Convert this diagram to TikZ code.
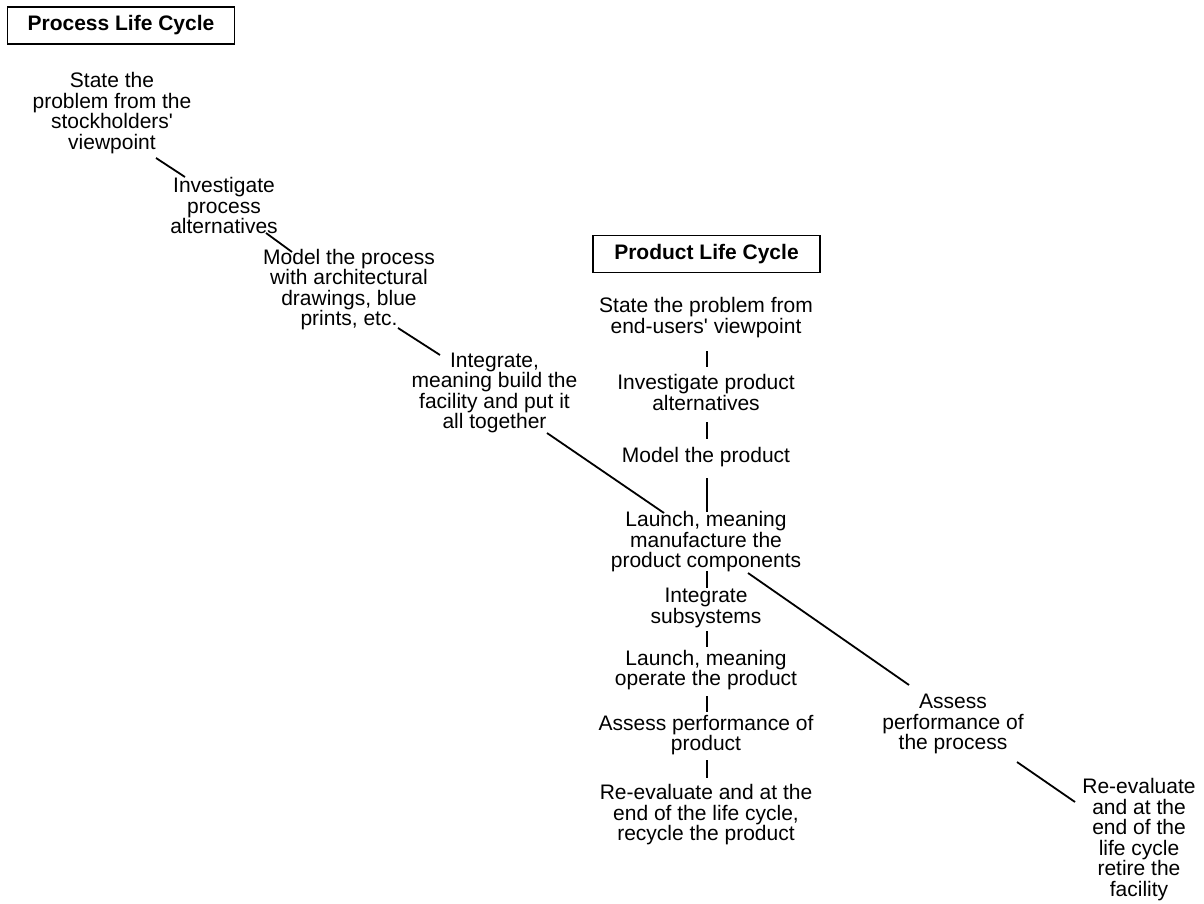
\documentclass[tikz,border=0pt]{standalone}
\usepackage{fontspec}
\setmainfont{Liberation Sans}
\usetikzlibrary{calc}
\tikzset{
  txt/.style={align=center, inner sep=0pt, font=\fontsize{21}{20.5}\selectfont},
  titlebox/.style={draw, line width=1.1pt, minimum width=227pt, minimum height=37pt, inner sep=0pt, font=\fontsize{21}{20.5}\selectfont\bfseries},
  conn/.style={line width=1.8pt}
}
\begin{document}
\begin{tikzpicture}[x=1pt,y=-1pt]
\useasboundingbox (0,0) rectangle (1204,904);
% process life cycle
\node[titlebox] (p0) at (121,25.5) {Process Life Cycle};
\node[txt] (p1) at (112,113) {State the\\problem from the\\stockholders\textquotesingle\\viewpoint};
\node[txt] (p2) at (224,205.5) {Investigate\\process\\alternatives};
\node[txt] (p3) at (349,289.5) {Model the process\\with architectural\\drawings, blue\\prints, etc.};
\node[txt] (p4) at (494.5,393) {Integrate,\\meaning build the\\facility and put it\\all together};
\node[txt] (p5) at (953,724) {Assess\\performance of\\the process};
\node[txt] (p6) at (1139,839.5) {Re-evaluate\\and at the\\end of the\\life cycle\\retire the\\facility};
% product life cycle
\node[titlebox] (q0) at (706.5,254) {Product Life Cycle};
\node[txt] (q1) at (706,317.5) {State the problem from\\end-users\textquotesingle{} viewpoint};
\node[txt] (q2) at (706,392.5) {Investigate product\\alternatives};
\node[txt] (q3) at (706,457) {Model the product};
\node[txt] (q4) at (706,542) {Launch, meaning\\manufacture the\\product components};
\node[txt] (q5) at (706,608) {Integrate\\subsystems};
\node[txt] (q6) at (706,670) {Launch, meaning\\operate the product};
\node[txt] (q7) at (706,735) {Assess performance of\\product};
\node[txt] (q8) at (706,815) {Re-evaluate and at the\\end of the life cycle,\\recycle the product};
% diagonal connectors
\draw[conn] ($(p1.center)+(44,45)$) -- ($(p2.center)+(-39,-28.5)$);
\draw[conn] ($(p2.center)+(42,27.5)$) -- ($(p3.center)+(-57,-37.5)$);
\draw[conn] ($(p3.center)+(49,38.5)$) -- ($(p4.center)+(-54.5,-38)$);
\draw[conn] ($(p4.center)+(52.5,40)$) -- ($(q4.center)+(-42,-29)$);
\draw[conn] ($(q4.center)+(42,31)$) -- ($(p5.center)+(-44,-39)$);
\draw[conn] ($(p5.center)+(64,38)$) -- ($(p6.center)+(-64,-37.5)$);
% vertical connectors
\draw[conn] ($(q1.center)+(1,33.5)$) -- ($(q2.center)+(1,-25.5)$);
\draw[conn] ($(q2.center)+(1,29.5)$) -- ($(q3.center)+(1,-18)$);
\draw[conn] ($(q3.center)+(1,21)$) -- ($(q4.center)+(1,-30)$);
\draw[conn] ($(q4.center)+(1,29)$) -- ($(q5.center)+(1,-20)$);
\draw[conn] ($(q5.center)+(1,23)$) -- ($(q6.center)+(1,-23)$);
\draw[conn] ($(q6.center)+(1,26)$) -- ($(q7.center)+(1,-23)$);
\draw[conn] ($(q7.center)+(1,25)$) -- ($(q8.center)+(1,-37)$);
\end{tikzpicture}
\end{document}
